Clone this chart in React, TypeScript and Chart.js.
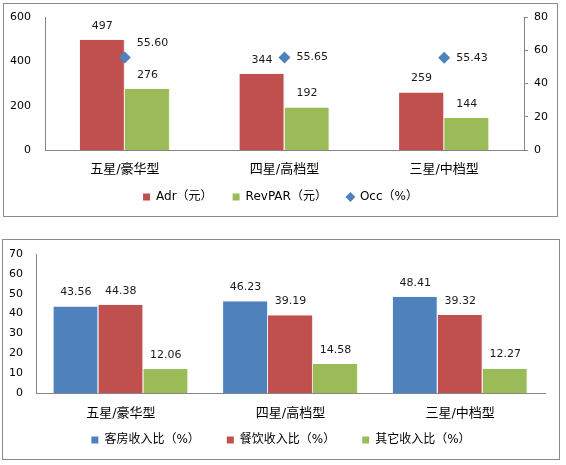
import React, { useEffect, useRef } from "react";
import Chart from "chart.js/auto";

const topCategories = ["五星/豪华型", "四星/高档型", "三星/中档型"];
const adrValues = [497, 344, 259];
const revparValues = [276, 192, 144];
const occValues = [55.6, 55.65, 55.43];
const topLeftTicks = [0, 200, 400, 600];
const topRightTicks = [0, 20, 40, 60, 80];
const topSeriesNames = ["Adr（元）", "RevPAR（元）", "Occ（%）"];

const bottomCategories = ["五星/豪华型", "四星/高档型", "三星/中档型"];
const roomShare = [43.56, 46.23, 48.41];
const foodShare = [44.38, 39.19, 39.32];
const otherShare = [12.06, 14.58, 12.27];
const bottomTicks = [0, 10, 20, 30, 40, 50, 60, 70];
const bottomSeriesNames = ["客房收入比（%）", "餐饮收入比（%）", "其它收入比（%）"];

const RED = "#C0504D";
const GREEN = "#9BBB59";
const BLUE = "#4F81BD";
const AXIS = "#868686";
const NUM_FONT = "'DejaVu Sans', 'Noto Sans CJK SC', sans-serif";
const CJK_FONT = "'DejaVu Sans', 'Noto Sans CJK SC', sans-serif";
const BAR_EDGE = { top: 0, left: 0, bottom: 0, right: 1 };

function makeLabelPlugin(fmt: (v: number, isPoint: boolean) => string) {
  return {
    id: "valueLabels",
    afterDatasetsDraw(chart: any) {
      const ctx = chart.ctx;
      ctx.save();
      ctx.font = `11px ${NUM_FONT}`;
      ctx.fillStyle = "#1a1a1a";
      ctx.textBaseline = "middle";
      const metas = chart.getSortedVisibleDatasetMetas();
      metas.forEach((meta: any) => {
        const ds = chart.data.datasets[meta.index];
        meta.data.forEach((el: any, i: number) => {
          const v = ds.data[i] as number;
          if (meta.type === "bar") {
            ctx.textAlign = "center";
            ctx.fillText(fmt(v, false), el.x, el.y - 14);
          } else {
            let y = el.y;
            metas.forEach((m: any) => {
              if (m.type !== "bar") return;
              const b = m.data[i];
              if (b && b.x > el.x && Math.abs(b.y - 14 - y) < 20) {
                y = b.y - 14 - 32;
              }
            });
            ctx.textAlign = "left";
            ctx.fillText(fmt(v, true), el.x + 12, y);
          }
        });
      });
      ctx.restore();
    },
  };
}

const fitX = (h: number) => (s: any) => {
  s.height = h;
  s._computeLabelArea = () => undefined;
};
const fitY = (w: number) => (s: any) => {
  s.width = w;
  s.paddingTop = 0;
  s.paddingBottom = 0;
};

function TopChart() {
  const ref = useRef<HTMLCanvasElement>(null);
  useEffect(() => {
    const chart = new Chart(ref.current!, {
      type: "bar",
      data: {
        labels: topCategories,
        datasets: [
          {
            type: "line",
            label: topSeriesNames[2],
            data: occValues,
            yAxisID: "y1",
            showLine: false,
            pointStyle: "rectRot",
            pointRadius: 6,
            backgroundColor: BLUE,
            borderColor: BLUE,
            borderWidth: 0,
            order: 0,
          } as any,
          {
            label: topSeriesNames[0],
            data: adrValues,
            backgroundColor: RED,
            borderColor: "#f3dede",
            borderWidth: BAR_EDGE,
            borderSkipped: false,
            yAxisID: "y",
            categoryPercentage: 0.565,
            barPercentage: 1,
            order: 1,
          },
          {
            label: topSeriesNames[1],
            data: revparValues,
            backgroundColor: GREEN,
            borderColor: "#eef4e2",
            borderWidth: BAR_EDGE,
            borderSkipped: false,
            yAxisID: "y",
            categoryPercentage: 0.565,
            barPercentage: 1,
            order: 2,
          },
        ],
      },
      options: {
        animation: false,
        responsive: true,
        maintainAspectRatio: false,
        layout: { padding: { left: 0, right: 0, top: 13, bottom: 3 } },
        scales: {
          x: {
            grid: { display: false, drawTicks: false },
            border: { display: true, color: AXIS },
            ticks: { color: "#000", padding: 12, font: { size: 13, family: CJK_FONT } },
            afterFit: fitX(21),
          },
          y: {
            position: "left",
            min: 0,
            max: 600,
            afterBuildTicks: (s: any) => { s.ticks = topLeftTicks.map((v) => ({ value: v })); },
            grid: { display: false, drawTicks: false },
            border: { display: true, color: AXIS },
            ticks: { color: "#000", padding: 14, font: { size: 11, family: NUM_FONT } },
            afterFit: fitY(41),
          },
          y1: {
            position: "right",
            min: 0,
            max: 80,
            afterBuildTicks: (s: any) => { s.ticks = topRightTicks.map((v) => ({ value: v })); },
            grid: { drawOnChartArea: false, drawTicks: true, tickLength: 4, color: AXIS },
            border: { display: true, color: AXIS },
            ticks: { color: "#000", padding: 6, font: { size: 11, family: NUM_FONT } },
            afterFit: fitY(33),
          },
        },
        plugins: {
          legend: {
            position: "bottom",
            labels: {
              usePointStyle: true,
              boxWidth: 7,
              boxHeight: 7,
              padding: 20,
              color: "#000",
              font: { size: 12, family: CJK_FONT },
              generateLabels: (c: any) => {
                const order = [1, 2, 0];
                return order.map((i) => {
                  const ds = c.data.datasets[i];
                  return {
                    text: ds.label,
                    fillStyle: ds.backgroundColor,
                    strokeStyle: ds.backgroundColor,
                    lineWidth: 0,
                    pointStyle: ds.type === "line" ? "rectRot" : "rect",
                    datasetIndex: i,
                    fontColor: "#000",
                  };
                });
              },
            },
          },
          tooltip: { enabled: false },
        },
      },
      plugins: [makeLabelPlugin((v, isPoint) => (isPoint ? v.toFixed(2) : String(v)))],
    });
    return () => chart.destroy();
  }, []);
  return <canvas ref={ref} />;
}

function BottomChart() {
  const ref = useRef<HTMLCanvasElement>(null);
  useEffect(() => {
    const mk = (label: string, data: number[], color: string, edge: string) => ({
      label,
      data,
      backgroundColor: color,
      borderColor: edge,
      borderWidth: BAR_EDGE,
      borderSkipped: false,
      categoryPercentage: 0.795,
      barPercentage: 1,
    });
    const chart = new Chart(ref.current!, {
      type: "bar",
      data: {
        labels: bottomCategories,
        datasets: [
          mk(bottomSeriesNames[0], roomShare, BLUE, "#e4ecf6"),
          mk(bottomSeriesNames[1], foodShare, RED, "#f3dede"),
          mk(bottomSeriesNames[2], otherShare, GREEN, "#eef4e2"),
        ],
      },
      options: {
        animation: false,
        responsive: true,
        maintainAspectRatio: false,
        layout: { padding: { left: 0, right: 0, top: 14, bottom: 3 } },
        scales: {
          x: {
            grid: { display: false, drawTicks: false },
            border: { display: true, color: AXIS },
            ticks: { color: "#000", padding: 13, font: { size: 13, family: CJK_FONT } },
            afterFit: fitX(14),
          },
          y: {
            min: 0,
            max: 70,
            afterBuildTicks: (s: any) => { s.ticks = bottomTicks.map((v) => ({ value: v })); },
            grid: { display: false, drawTicks: false },
            border: { display: true, color: AXIS },
            ticks: { color: "#000", padding: 13, font: { size: 11, family: NUM_FONT } },
            afterFit: fitY(33),
          },
          yRight: {
            position: "right",
            display: true,
            min: 0,
            max: 70,
            grid: { display: false, drawTicks: false },
            border: { display: false },
            ticks: { display: false },
            afterFit: fitY(14),
          },
        },
        plugins: {
          legend: {
            position: "bottom",
            labels: {
              usePointStyle: true,
              pointStyle: "rect",
              boxWidth: 7,
              boxHeight: 7,
              padding: 27,
              color: "#000",
              font: { size: 12, family: CJK_FONT },
              generateLabels: (c: any) =>
                c.data.datasets.map((ds: any, i: number) => ({
                  text: ds.label,
                  fillStyle: ds.backgroundColor,
                  strokeStyle: ds.backgroundColor,
                  lineWidth: 0,
                  pointStyle: "rect",
                  datasetIndex: i,
                  fontColor: "#000",
                })),
            },
          },
          tooltip: { enabled: false },
        },
      },
      plugins: [makeLabelPlugin((v) => v.toFixed(2))],
    });
    return () => chart.destroy();
  }, []);
  return <canvas ref={ref} />;
}

export default function App() {
  return (
    <div style={{ position: "fixed", left: 0, top: 0, width: 566, height: 465, background: "#fff" }}>
      <div
        style={{
          position: "absolute",
          left: 3,
          top: 3,
          width: 555,
          height: 214,
          boxSizing: "border-box",
          border: "1px solid #8a8a8a",
        }}
      >
        <div style={{ position: "relative", width: 553, height: 212 }}>
          <TopChart />
        </div>
      </div>
      <div
        style={{
          position: "absolute",
          left: 2,
          top: 239,
          width: 558,
          height: 221,
          boxSizing: "border-box",
          border: "1px solid #8a8a8a",
        }}
      >
        <div style={{ position: "relative", width: 556, height: 219 }}>
          <BottomChart />
        </div>
      </div>
    </div>
  );
}
